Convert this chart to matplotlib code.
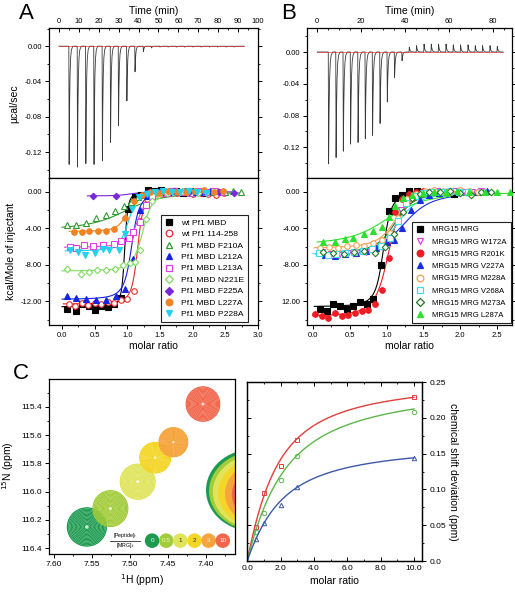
import numpy as np
import matplotlib
matplotlib.use("Agg")
import matplotlib.pyplot as plt
from matplotlib.patches import Ellipse
from matplotlib.lines import Line2D
from matplotlib.ticker import (MultipleLocator, FixedLocator, FixedFormatter,
                               FormatStrFormatter, NullFormatter)

plt.rcParams['font.family'] = ['Liberation Sans', 'DejaVu Sans']

# ---------------- Panel A raw thermogram ----------------
A_inj_time = [5.0, 9.2, 13.4, 17.5, 21.7, 25.8, 29.8, 34.0, 38.1, 42.3, 46.4, 50.6, 54.7,
              58.9, 63.0, 67.2, 71.3, 75.5, 79.6, 83.8, 87.9]
A_inj_depth = [-0.134, -0.137, -0.133, -0.134, -0.130, -0.109, -0.090, -0.062, -0.029,
               -0.006, -0.002, -0.001, -0.001, -0.001, -0.001, -0.001, -0.001, -0.001,
               -0.001, -0.001, -0.001]
A_trace_end = 93.0

# ---------------- Panel B raw thermogram ----------------
B_inj_time = [5.0, 8.4, 11.7, 15.0, 18.4, 21.7, 25.0, 28.4, 31.7, 35.0, 38.4, 41.7, 45.0,
              48.4, 51.7, 55.0, 58.4, 61.7, 65.0, 68.4, 71.7, 75.0, 78.4, 81.7]
B_inj_depth = [-0.141, -0.133, -0.125, -0.116, -0.114, -0.109, -0.105, -0.090, -0.063,
               -0.032, -0.011, 0.006, 0.008, 0.010, 0.010, 0.010, 0.010, 0.009, 0.009,
               0.009, 0.008, 0.008, 0.008, 0.007]
B_trace_end = 84.5

# ---------------- Panel A integrated heats ----------------
A_labels = ["wt Pf1 MBD", "wt Pf1 114-258", "Pf1 MBD F210A", "Pf1 MBD L212A",
            "Pf1 MBD L213A", "Pf1 MBD N221E", "Pf1 MBD F225A", "Pf1 MBD L227A",
            "Pf1 MBD P228A"]
A_x_wt = [0.08, 0.21, 0.31, 0.41, 0.50, 0.60, 0.70, 0.80, 0.90, 1.01, 1.11, 1.21, 1.31, 1.42,
          1.52, 1.63, 1.74, 1.85, 1.96, 2.07, 2.18, 2.30]
A_y_wt = [-12.8, -13.1, -12.3, -12.5, -12.9, -12.5, -12.6, -12.3, -11.6, -1.9, -0.6, -0.3, 0.2,
          0.1, 0.2, 0.0, 0.1, -0.1, 0.1, 0.0, -0.1, 0.0]
A_x_114 = [0.10, 0.20, 0.30, 0.40, 0.50, 0.60, 0.70, 0.80, 0.90, 1.00, 1.10, 1.20, 1.30, 1.40,
           1.52, 1.64, 1.76, 1.88, 2.00, 2.12, 2.24, 2.36, 2.48]
A_y_114 = [-12.3, -12.5, -12.2, -12.4, -12.2, -12.3, -12.1, -12.2, -11.9, -11.7, -10.9, -3.2,
           -0.8, -0.3, -0.2, 0.0, -0.1, 0.1, -0.2, -0.1, -0.2, -0.3, -0.1]
A_x_F210A = [0.07, 0.21, 0.37, 0.52, 0.68, 0.81, 0.95, 1.06, 1.17, 1.28, 1.40, 1.52, 1.64, 1.76,
             1.88, 2.00, 2.13, 2.25, 2.38, 2.50, 2.62, 2.74]
A_y_F210A = [-3.65, -3.6, -3.4, -2.9, -2.5, -2.1, -1.6, -1.1, -0.6, -0.3, -0.1, 0.0, 0.1, 0.0,
             0.1, 0.0, 0.1, 0.0, 0.1, 0.0, 0.1, 0.0]
A_x_L212A = [0.08, 0.21, 0.37, 0.52, 0.68, 0.83, 0.96, 1.08, 1.19, 1.30, 1.42, 1.54, 1.66, 1.78,
             1.90, 2.02, 2.14, 2.26]
A_y_L212A = [-11.4, -11.6, -11.7, -11.9, -11.9, -11.4, -10.6, -7.4, -2.0, -0.5, -0.1, 0.0, 0.1,
             0.0, 0.1, 0.0, 0.0, 0.1]
A_x_L213A = [0.12, 0.22, 0.33, 0.48, 0.63, 0.79, 0.90, 1.02, 1.09, 1.20, 1.28, 1.37, 1.48, 1.60,
             1.72, 1.84, 1.96, 2.08, 2.20, 2.32, 2.44]
A_y_L213A = [-6.0, -6.1, -5.8, -5.9, -5.8, -5.7, -5.4, -5.1, -4.4, -3.3, -1.4, -0.5, -0.1, -0.1,
             0.1, 0.0, -0.1, 0.1, 0.0, 0.1, 0.0]
A_x_N221E = [0.08, 0.29, 0.41, 0.54, 0.68, 0.81, 0.93, 1.04, 1.11, 1.19, 1.28, 1.37, 1.48, 1.60,
             1.72, 1.84, 1.96, 2.08, 2.20]
A_y_N221E = [-8.5, -9.0, -8.8, -8.6, -8.6, -8.5, -8.0, -7.8, -7.7, -6.4, -3.0, -1.0, -0.3, -0.1,
             0.0, 0.1, 0.0, -0.1, 0.0]
A_x_F225A = [0.47, 0.82, 1.28, 1.50, 1.72, 1.95, 2.18, 2.41, 2.63]
A_y_F225A = [-0.4, -0.4, -0.1, 0.0, 0.1, 0.0, 0.1, 0.0, -0.1]
A_x_L227A = [0.19, 0.30, 0.42, 0.55, 0.68, 0.80, 0.97, 1.10, 1.22, 1.35, 1.48, 1.62, 1.76, 1.90,
             2.04, 2.18, 2.32, 2.46]
A_y_L227A = [-4.35, -4.35, -4.3, -4.3, -4.25, -4.1, -2.9, -1.0, -0.3, 0.0, -0.1, 0.1, 0.0, 0.0,
             0.1, 0.2, 0.0, 0.1]
A_x_P228A = [0.13, 0.25, 0.35, 0.50, 0.62, 0.72, 0.88, 0.97, 1.07, 1.18, 1.30, 1.42, 1.55, 1.68,
             1.81, 1.94, 2.07, 2.20]
A_y_P228A = [-6.4, -6.6, -6.9, -6.7, -6.3, -6.4, -6.4, -4.6, -1.9, -0.6, -0.2, 0.0, 0.1, 0.0,
             0.0, 0.1, 0.0, -0.1]
# one-site fit parameters (dH kcal/mol, n, c)
A_fit_dH = [-12.6, -12.3, -4.2, -11.8, -6.1, -8.7, -0.45, -4.35, -6.5]
A_fit_n = [0.96, 1.16, 1.05, 1.07, 1.17, 1.24, 1.05, 1.00, 1.02]
A_fit_c = [1500, 600, 12, 300, 200, 250, 100, 200, 200]

# ---------------- Panel B integrated heats ----------------
B_labels = ["MRG15 MRG", "MRG15 MRG W172A", "MRG15 MRG R201K", "MRG15 MRG V227A",
            "MRG15 MRG M228A", "MRG15 MRG V268A", "MRG15 MRG M273A", "MRG15 MRG L287A"]
B_x_wt = [0.10, 0.19, 0.28, 0.37, 0.46, 0.55, 0.64, 0.73, 0.82, 0.93, 1.03, 1.11, 1.21, 1.31,
          1.41, 1.50, 1.61, 1.71, 1.81, 1.91, 2.00]
B_y_wt = [-12.8, -13.1, -12.3, -12.5, -12.85, -12.55, -12.05, -12.3, -11.7, -8.0, -2.1, -0.7,
          -0.3, 0.1, 0.1, 0.0, 0.0, -0.1, 0.0, -0.2, 0.0]
B_x_W172A = [0.12, 0.24, 0.36, 0.48, 0.60, 0.72, 0.84, 0.96, 1.08, 1.20, 1.32, 1.44, 1.56, 1.68,
             1.80, 1.92, 2.04, 2.16, 2.28]
B_y_W172A = [-6.6, -6.8, -6.9, -6.7, -6.7, -6.6, -6.4, -6.0, -5.0, -2.0, -0.6, -0.2, 0.0, 0.1,
             0.0, 0.1, 0.0, 0.0, 0.1]
B_x_R201K = [0.03, 0.12, 0.21, 0.30, 0.39, 0.48, 0.57, 0.66, 0.75, 0.84, 0.94, 1.03, 1.12, 1.21,
             1.30, 1.40, 1.50, 1.60, 1.70]
B_y_R201K = [-13.4, -13.6, -13.8, -13.3, -13.6, -13.5, -13.3, -13.1, -12.9, -12.3, -10.8, -7.2,
             -2.2, -0.8, -0.2, 0.0, 0.1, 0.0, 0.0]
B_x_V227A = [0.16, 0.30, 0.44, 0.58, 0.72, 0.86, 1.00, 1.10, 1.21, 1.33, 1.45, 1.58, 1.71, 1.84,
             1.97, 2.10, 2.23, 2.36]
B_y_V227A = [-6.9, -7.0, -6.8, -6.7, -6.5, -6.2, -5.5, -5.3, -4.0, -2.0, -0.9, -0.3, -0.1, 0.0,
             0.1, 0.0, 0.0, 0.1]
B_x_M228A = [0.10, 0.22, 0.34, 0.46, 0.58, 0.70, 0.82, 0.94, 1.05, 1.16, 1.28, 1.40, 1.52, 1.64,
             1.76, 1.88, 2.00, 2.12, 2.24]
B_y_M228A = [-6.2, -6.0, -6.1, -5.9, -5.8, -5.9, -5.6, -5.3, -4.5, -2.9, -0.8, -0.2, 0.1, 0.2,
             0.1, 0.0, 0.2, 0.1, 0.0]
B_x_V268A = [0.08, 0.20, 0.32, 0.44, 0.56, 0.68, 0.80, 0.92, 1.04, 1.15, 1.26, 1.38, 1.50, 1.62,
             1.74, 1.86, 1.98, 2.10]
B_y_V268A = [-6.7, -6.9, -6.8, -6.7, -6.6, -6.5, -6.3, -5.9, -5.1, -3.2, -1.2, -0.4, -0.1, 0.0,
             0.0, 0.1, 0.0, 0.0]
B_x_M273A = [0.14, 0.28, 0.42, 0.56, 0.70, 0.84, 0.98, 1.10, 1.22, 1.34, 1.46, 1.58, 1.72, 1.86,
             2.00, 2.14, 2.28, 2.42]
B_y_M273A = [-6.6, -6.7, -6.8, -6.6, -6.5, -6.75, -6.0, -4.6, -2.2, -0.7, -0.2, 0.0, 0.0, 0.1,
             -0.1, -0.3, 0.0, 0.0]
B_x_L287A = [0.14, 0.30, 0.43, 0.55, 0.69, 0.81, 0.94, 1.03, 1.12, 1.22, 1.35, 1.50, 1.65, 1.80,
             1.96, 2.12, 2.34, 2.50, 2.68]
B_y_L287A = [-5.5, -5.5, -5.2, -5.1, -4.65, -4.3, -3.8, -2.8, -1.6, -0.7, -0.3, -0.1, 0.0, 0.0,
             0.1, 0.0, 0.0, 0.0, 0.0]
B_fit_dH = [-12.6, -6.9, -13.7, -7.0, -6.2, -6.9, -6.8, -5.9]
B_fit_n = [0.96, 1.15, 1.03, 1.27, 1.13, 1.17, 1.13, 1.08]
B_fit_c = [300, 100, 120, 40, 80, 60, 70, 15]

# ---------------- Panel C NMR ----------------
C_ratio_labels = ["0", "0.5", "1", "2", "3", "10"]
C_peak_H = [7.557, 7.526, 7.490, 7.467, 7.443, 7.404]
C_peak_N = [116.25, 116.12, 115.93, 115.76, 115.65, 115.38]
C_colors = ['#1c9a50', '#a2cc3a', '#dfe45a', '#f4d628', '#f6a43c', '#f2674c']

# ---------------- Panel C titration ----------------
C_molar = [0.5, 1.0, 2.0, 3.0, 10.0]
C_red = [0.047, 0.095, 0.133, 0.169, 0.229]
C_green = [0.040, 0.067, 0.113, 0.147, 0.208]
C_blue = [0.031, 0.053, 0.078, 0.103, 0.144]
C_fit_dmax = [0.259, 0.252, 0.168]
C_fit_k = [1.2, 1.7, 1.5]

# ======================================================================
TICK = 5.5
LAB = 7.5


def wiseman(x, dH, n, c):
    xr = np.asarray(x, dtype=float) / n
    r = 1.0 / c
    return dH * (0.5 + (1 - (1 + r) / 2 - xr / 2) / np.sqrt((1 + xr + r) ** 2 - 4 * xr))


def thermo(times, depths, t_end):
    sh_t = np.array([0, 0.15, 0.35, 0.6, 0.9, 1.3, 2.0])
    sh_y = np.array([0, 1.0, 0.55, 0.25, 0.1, 0.03, 0])
    ts, ys = [0.0], [0.0]
    for t, d in zip(times, depths):
        ts.extend(t + sh_t)
        ys.extend(d * sh_y)
    ts.append(t_end)
    ys.append(0.0)
    return ts, ys


def style_box(ax):
    for s in ax.spines.values():
        s.set_linewidth(0.9)


fig = plt.figure(figsize=(5.15, 6.0), dpi=100)

axA1 = fig.add_axes([0.095, 0.703, 0.406, 0.250])
axA2 = fig.add_axes([0.095, 0.458, 0.406, 0.245])
axB1 = fig.add_axes([0.596, 0.703, 0.398, 0.250])
axB2 = fig.add_axes([0.596, 0.458, 0.398, 0.245])
axC1 = fig.add_axes([0.095, 0.077, 0.361, 0.292])
axC2 = fig.add_axes([0.480, 0.065, 0.340, 0.298])
axC2_l = axC2.twinx()   # only used for inward ticks on the left spine


def raw_panel(ax, times, depths, t_end, xlim, ylim, xmajor, xminor):
    ts, ys = thermo(times, depths, t_end)
    ax.plot(ts, ys, color='#3a3a3a', lw=0.6)
    ax.plot([0, t_end], [0, 0], color='#e03030', lw=0.5, alpha=0.9)
    ax.set_xlim(*xlim)
    ax.set_ylim(*ylim)
    ax.xaxis.set_major_locator(MultipleLocator(xmajor))
    ax.xaxis.set_minor_locator(MultipleLocator(xminor))
    ax.yaxis.set_major_locator(MultipleLocator(0.04))
    ax.yaxis.set_minor_locator(MultipleLocator(0.02))
    ax.yaxis.set_major_formatter(FormatStrFormatter('%.2f'))
    ax.xaxis.set_ticks_position('top')
    ax.xaxis.set_label_position('top')
    ax.tick_params(axis='x', which='both', direction='in', top=True, bottom=False,
                   labelsize=TICK, pad=2)
    ax.tick_params(axis='y', which='both', direction='out', left=True, right=True,
                   labelsize=TICK, pad=2)
    ax.tick_params(which='major', length=3, width=0.7)
    ax.tick_params(which='minor', length=1.6, width=0.6)
    ax.set_xlabel('Time (min)', fontsize=LAB, labelpad=3)
    style_box(ax)


raw_panel(axA1, A_inj_time, A_inj_depth, A_trace_end, (-5, 100), (-0.1496, 0.0204), 10, 5)
raw_panel(axB1, B_inj_time, B_inj_depth, B_trace_end, (-4.7, 88.5), (-0.159, 0.030), 20, 5)
axA1.set_ylabel('µcal/sec', fontsize=LAB, labelpad=4)
axB1.set_xticks([0, 20, 40, 60, 80])

A_sets = [(A_x_wt, A_y_wt), (A_x_114, A_y_114), (A_x_F210A, A_y_F210A), (A_x_L212A, A_y_L212A),
          (A_x_L213A, A_y_L213A), (A_x_N221E, A_y_N221E), (A_x_F225A, A_y_F225A),
          (A_x_L227A, A_y_L227A), (A_x_P228A, A_y_P228A)]
A_col = ['#000000', '#e82a2a', '#2f9a2f', '#1424e0', '#e040e0', '#7fdc5f', '#7a28d8',
         '#f08424', '#22d2ee']
A_mk = ['s', 'o', '^', '^', 's', 'D', 'D', 'o', 'v']
A_fill = [True, False, False, True, False, False, True, True, True]

B_sets = [(B_x_wt, B_y_wt), (B_x_W172A, B_y_W172A), (B_x_R201K, B_y_R201K),
          (B_x_V227A, B_y_V227A), (B_x_M228A, B_y_M228A), (B_x_V268A, B_y_V268A),
          (B_x_M273A, B_y_M273A), (B_x_L287A, B_y_L287A)]
B_col = ['#000000', '#e040e0', '#ee1c24', '#1a2ee0', '#f0a050', '#40dcee', '#237a23', '#2ee02e']
B_mk = ['s', 'v', 'o', '^', 'o', 's', 'D', '^']
B_fill = [True, False, True, True, False, False, False, True]


def heat_panel(ax, sets, cols, mks, fills, dHs, ns, cs, labels, xlim, yticklabels):
    handles = []
    for (x, y), col, mk, fl, dH, n, c, lab in zip(sets, cols, mks, fills, dHs, ns, cs, labels):
        xf = np.linspace(max(min(x) - 0.08, 0.0), max(x), 300)
        ax.plot(xf, wiseman(xf, dH, n, c), color=col, lw=0.8, zorder=2)
        ms = 4.0 if mk != 'D' else 3.3
        ax.plot(x, y, linestyle='none', marker=mk, ms=ms, mec=col, mew=0.8,
                mfc=col if fl else 'white', zorder=3)
        handles.append(Line2D([], [], linestyle='none', marker=mk, ms=4.8 if mk != 'D' else 4.0,
                              mec=col, mew=0.9, mfc=col if fl else 'white', label=lab))
    ax.set_xlim(*xlim)
    ax.set_ylim(-14.62, 1.5)
    ax.xaxis.set_major_locator(MultipleLocator(0.5))
    ax.xaxis.set_minor_locator(MultipleLocator(0.25))
    ax.xaxis.set_major_formatter(FormatStrFormatter('%.1f'))
    ax.yaxis.set_major_locator(FixedLocator([0, -4, -8, -12]))
    ax.yaxis.set_major_formatter(FixedFormatter(yticklabels))
    ax.yaxis.set_minor_locator(MultipleLocator(2))
    ax.tick_params(axis='x', which='both', direction='out', top=False, bottom=True,
                   labelsize=TICK, pad=2)
    ax.tick_params(axis='y', which='both', direction='out', left=True, right=True,
                   labelsize=TICK, pad=2)
    ax.tick_params(which='major', length=3, width=0.7)
    ax.tick_params(which='minor', length=1.6, width=0.6)
    ax.set_xlabel('molar ratio', fontsize=LAB, labelpad=1)
    style_box(ax)
    return handles


hA = heat_panel(axA2, A_sets, A_col, A_mk, A_fill, A_fit_dH, A_fit_n, A_fit_c, A_labels,
                (-0.2, 3.0), ['0.00', '-4.00', '-8.00', '-12.00'])
axA2.set_ylabel('kcal/Mole of injectant', fontsize=LAB, labelpad=3)
legA = axA2.legend(handles=hA, loc='lower right', bbox_to_anchor=(0.952, 0.02),
                   fontsize=6.1, frameon=True, fancybox=False, edgecolor='#222222',
                   framealpha=1, labelspacing=0.42, handlelength=0.9, handletextpad=1.0,
                   borderpad=0.45, borderaxespad=0)
legA.get_frame().set_linewidth(0.8)

hB = heat_panel(axB2, B_sets, B_col, B_mk, B_fill, B_fit_dH, B_fit_n, B_fit_c, B_labels,
                (-0.08, 2.70), ['0.00', '-4.00', '-8.00', '12.00'])
legB = axB2.legend(handles=hB, loc='lower right', bbox_to_anchor=(0.995, 0.015),
                   fontsize=5.6, frameon=True, fancybox=False, edgecolor='#222222',
                   framealpha=1, labelspacing=0.62, handlelength=0.9, handletextpad=1.2,
                   borderpad=0.5, borderaxespad=0)
legB.get_frame().set_linewidth(0.8)

# ---------------- C left: NMR overlay ----------------
H = np.linspace(7.30, 7.65, 500)
N = np.linspace(115.0, 116.7, 500)
HH, NN = np.meshgrid(H, N)
radii = np.linspace(0.35, 2.7, 14)
levels = np.sort(np.exp(-radii ** 2 / 2))

# partially visible overlapping peaks of a neighbouring residue at the right edge
edge_shift = [0.0, 0.004, 0.009, 0.016, 0.025, 0.034]
for i, (col, dx) in enumerate(zip(C_colors, edge_shift)):
    e = Ellipse((7.338 - dx, 115.99 + 0.006 * i), width=0.124,
                height=0.58 - 0.02 * i, facecolor=col, edgecolor='none', zorder=1)
    axC1.add_patch(e)

sig_h = [0.0095, 0.0085, 0.0085, 0.0075, 0.0070, 0.0082]
sig_n = [0.050, 0.047, 0.046, 0.040, 0.038, 0.045]
for h0, n0, col, sh, sn in zip(C_peak_H, C_peak_N, C_colors, sig_h, sig_n):
    Z = np.exp(-((HH - h0) / sh) ** 2 / 2 - ((NN - n0) / sn) ** 2 / 2)
    axC1.contourf(HH, NN, Z, levels=[levels[0], 1.1], colors=['white'], alpha=0.85, zorder=2)
    axC1.contourf(HH, NN, Z, levels=[levels[0], 1.1], colors=[col], alpha=0.25, zorder=2)
    axC1.contour(HH, NN, Z, levels=levels, colors=[col], linewidths=0.85, zorder=3)

axC1.set_xlim(7.607, 7.362)
axC1.set_ylim(116.44, 115.2)
axC1.xaxis.set_major_locator(MultipleLocator(0.05))
axC1.xaxis.set_minor_locator(MultipleLocator(0.025))
axC1.xaxis.set_major_formatter(FormatStrFormatter('%.2f'))
axC1.yaxis.set_major_locator(FixedLocator([115.4, 115.6, 115.8, 116.0, 116.2, 116.4]))
axC1.yaxis.set_minor_locator(FixedLocator([115.3, 115.5, 115.7, 115.9, 116.1, 116.3]))
axC1.yaxis.set_major_formatter(FormatStrFormatter('%.1f'))
axC1.tick_params(which='both', direction='out', labelsize=6, pad=2)
axC1.tick_params(which='major', length=3, width=0.7)
axC1.tick_params(which='minor', length=1.6, width=0.6)
axC1.set_xlabel('$^{1}$H (ppm)', fontsize=LAB, labelpad=3)
axC1.set_ylabel('$^{15}$N (ppm)', fontsize=LAB, labelpad=4)
style_box(axC1)

# concentration legend
leg_x = np.linspace(0.555, 0.935, len(C_ratio_labels))
axC1.scatter(leg_x, [0.075] * len(leg_x), s=110, c=C_colors, transform=axC1.transAxes,
             zorder=5, edgecolors='none', clip_on=False)
txt_cols = ['white', '#f4f4c0', '#333300', '#333300', '#fff4e0', 'white']
for xx, lab, tc in zip(leg_x, C_ratio_labels, txt_cols):
    axC1.text(xx, 0.075, lab, transform=axC1.transAxes, ha='center', va='center',
              fontsize=4.6, color=tc, zorder=6)
axC1.text(0.41, 0.103, '[Peptide]$_t$', transform=axC1.transAxes, ha='center', va='center',
          fontsize=3.8, zorder=6)
axC1.text(0.41, 0.045, '[MRG]$_t$', transform=axC1.transAxes, ha='center', va='center',
          fontsize=3.8, zorder=6)
axC1.plot([0.33, 0.49], [0.075, 0.075], color='k', lw=0.5, transform=axC1.transAxes, zorder=6)

# ---------------- C right: titration curves ----------------
xs = np.linspace(0, 10, 300)
for y, mk, col, dmax, k in zip([C_red, C_green, C_blue], ['s', 'o', '^'],
                               ['#e0403a', '#5cb64a', '#3e58a8'], C_fit_dmax, C_fit_k):
    fit = dmax * ((1 + xs + k) - np.sqrt((1 + xs + k) ** 2 - 4 * xs)) / 2
    axC2.plot(xs, fit, color=col, lw=1.0)
    axC2.plot(C_molar, y, linestyle='none', marker=mk, ms=3.2, mfc='none', mec=col, mew=0.7)

# left-spine inward ticks (twin axis, no labels)
axC2_l.set_ylim(0, 0.25)
axC2_l.yaxis.set_ticks_position('left')
axC2_l.yaxis.set_major_locator(MultipleLocator(0.05))
axC2_l.yaxis.set_minor_locator(MultipleLocator(0.025))
axC2_l.yaxis.set_major_formatter(NullFormatter())
axC2_l.yaxis.set_minor_formatter(NullFormatter())
axC2_l.tick_params(axis='y', which='both', direction='in', labelleft=False, labelright=False)
axC2_l.tick_params(which='major', length=3, width=0.7)
axC2_l.tick_params(which='minor', length=1.6, width=0.6)

axC2.set_xlim(0, 10.5)
axC2.set_ylim(0, 0.25)
axC2.set_xticks([0, 2, 4, 6, 8, 10])
axC2.xaxis.set_major_formatter(FormatStrFormatter('%.1f'))
axC2.xaxis.set_minor_locator(MultipleLocator(1))
axC2.yaxis.set_major_locator(FixedLocator([0, 0.05, 0.10, 0.15, 0.20, 0.25]))
axC2.yaxis.set_major_formatter(FixedFormatter(['0.0', '0.05', '0.10', '0.15', '0.20', '0.25']))
axC2.yaxis.set_minor_locator(MultipleLocator(0.025))
axC2.yaxis.tick_right()
axC2.yaxis.set_label_position('right')
axC2.tick_params(axis='x', which='both', direction='in', top=True, bottom=True, labelsize=6, pad=3)
axC2.tick_params(axis='y', which='both', direction='out', left=False, right=True,
                 labelleft=False, labelright=True, labelsize=6, pad=2)
axC2.tick_params(which='major', length=3, width=0.7)
axC2.tick_params(which='minor', length=1.6, width=0.6)
axC2.set_xlabel('molar ratio', fontsize=LAB, labelpad=3)
axC2.set_ylabel('chemical shift deviation (ppm)', fontsize=LAB, rotation=-90, labelpad=9)
style_box(axC2)
style_box(axC2_l)

fig.text(0.052, 0.978, 'A', fontsize=16, ha='center', va='center')
fig.text(0.561, 0.978, 'B', fontsize=16, ha='center', va='center')
fig.text(0.041, 0.377, 'C', fontsize=16, ha='center', va='center')

fig.savefig('out.png', dpi=100)
